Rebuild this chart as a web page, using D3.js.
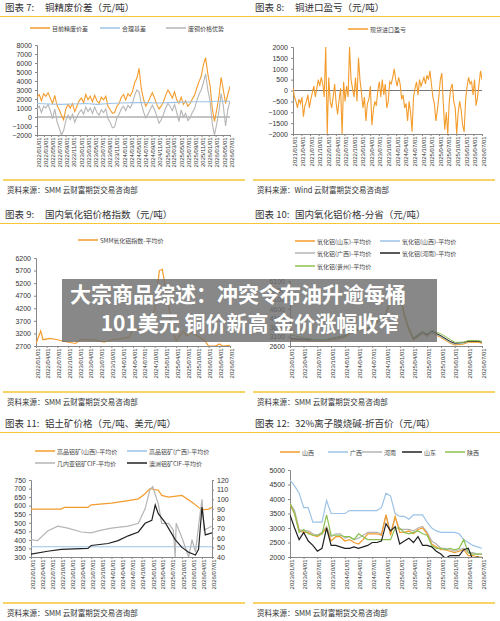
<!DOCTYPE html>
<html><head><meta charset="utf-8">
<script src="https://cdn.jsdelivr.net/npm/d3@7"></script>
<style>body{margin:0;background:#fff}svg{font-family:"Noto Sans CJK SC","Noto Sans",sans-serif}</style>
</head><body><div id="chart"></div>
<script>
// ---- 图表7 铜精废价差 ----
const p7Range = ['2022-01-01', '2026-07-01'];
const p7Ticks = d3.range(0, 28).map(i => d3.timeMonth.offset(new Date(2022, 0, 1), i * 2));
const p7Spread = [2200,2500,1800,2600,2300,2700,2100,1500,2400,1300,800,200,-300,900,1400,1000,1500,600,1200,1800,2100,1600,2500,1900,2300,1700,2400,1800,1500,2200,1900,2300,1200,800,400,500,1200,1500,2200,2500,1900,2600,2300,2800,3800,4300,5400,3200,2000,1200,1600,2200,2700,2100,1400,900,1200,1700,2400,3000,2600,2100,2800,1900,1500,2200,1400,1800,1200,1500,2000,2400,3200,3900,4500,5800,6600,4800,3500,1000,-500,800,2200,4400,3000,1500,2500,3400];
const p7Basis = [1500,1450,1400,1450,1500,1400,1500,1550,1600,1600,1550,1600,1650,1700,1700,1750,1750];
const p7Scrap = [900,1200,500,1200,1000,1400,700,-200,900,-500,-1200,-2000,-1500,-400,200,-300,300,-600,0,500,800,300,1100,600,1000,400,1100,500,200,800,500,900,-200,-600,-1200,-1100,-100,300,900,1200,700,1300,1000,1500,2400,3000,2800,1500,600,-100,300,800,1300,800,100,-700,-300,300,1000,1500,1200,700,1400,500,-500,800,0,400,-400,-100,500,900,1800,2500,3000,3800,4800,3000,1800,-700,-2000,-800,600,2600,1200,-1000,800,1800];
const p7YTicks = d3.range(-2000, 8001, 1000);

// ---- 图表8 铜进口盈亏 ----
const p8Range = ['2021-01-01', '2026-07-01'];
const p8Ticks = d3.range(0, 23).map(i => d3.timeMonth.offset(new Date(2021, 0, 1), i * 3));
const p8Profit = [100,-300,-500,-800,-400,-600,-300,-1200,-700,-500,-200,-800,-400,-100,200,-300,100,500,200,600,300,-300,2000,-2000,600,-500,-800,-300,300,-600,-1100,-400,100,-2000,400,-500,200,-300,2000,500,100,-300,600,-500,1500,500,-100,-800,-300,-1400,-600,-400,200,-1600,-900,-500,-700,0,400,-300,500,-200,300,-800,-500,400,300,600,1000,500,200,600,300,-400,-200,-800,-600,-1400,-500,-1000,-1900,-300,100,400,-200,500,200,400,600,300,700,500,900,300,-300,-600,-1400,-900,-300,500,800,-600,-1800,-1000,-2000,-500,100,300,-500,-800,-2000,-1000,-500,-900,-1600,-1900,-400,200,600,300,400,-200,500,-700,-300,300,900,500];
const p8YTicks = d3.range(-2000, 2001, 500);

// ---- 图表9 国内氧化铝价格指数 ----
const p9Ticks = d3.range(0, 19).map(i => d3.timeMonth.offset(new Date(2022, 0, 1), i * 3));
const p9Dates = ['2022-01-01','2022-02-10','2022-03-01','2022-05-01','2022-07-01','2022-10-01','2022-12-01','2023-01-15','2023-05-01','2023-08-01','2023-10-01','2024-01-01','2024-03-01','2024-04-01','2024-06-01','2024-08-01','2024-10-01','2024-11-10','2024-12-05','2025-01-01','2025-03-01','2025-04-01','2025-06-01','2025-07-01','2025-08-01','2025-10-01','2025-12-01','2026-01-01','2026-03-01','2026-04-01','2026-05-01','2026-07-01'];
const p9Index = [2800,3300,2950,3000,2950,2850,2800,2950,2950,2850,2950,3000,3050,3400,3350,3800,4100,5700,5750,5000,3400,2900,3300,3100,3250,3100,2900,2700,2700,2780,2700,2730];
const p9YTicks = d3.range(2700, 6201, 500);

// ---- 图表10 国内氧化铝价格-分省 ----
const p10Ticks = d3.range(0, 15).map(i => d3.timeMonth.offset(new Date(2023, 0, 1), i * 3));
const p10Dates = ['2023-01-01','2023-06-01','2023-09-01','2024-01-01','2024-03-01','2024-06-01','2024-08-01','2024-10-01','2024-11-15','2024-12-10','2025-01-01','2025-02-01','2025-03-01','2025-04-01','2025-06-01','2025-07-01','2025-08-01','2025-10-01','2025-12-01','2026-01-01','2026-03-01','2026-04-01','2026-06-01','2026-07-01'];
const p10Shandong = [2900,2850,2850,3050,3450,3450,3850,4250,5450,5650,5250,4150,3450,2900,3250,3100,3300,3050,2750,2650,2700,2800,2800,2750];
const p10Shanxi = [2950,2900,2900,3100,3500,3500,3900,4300,5500,5700,5300,4200,3500,2950,3300,3150,3350,3100,2800,2700,2750,2850,2850,2800];
const p10Guangxi = [2950,2900,2950,3100,3500,3500,3900,4300,5500,5700,5300,4200,3500,2950,3300,3150,3350,3100,2800,2700,2750,2850,2850,2800];
const p10Henan = [3000,2950,2950,3150,3550,3550,3950,4350,5550,5750,5350,4250,3550,3000,3350,3200,3400,3150,2850,2750,2800,2850,2850,2800];
const p10Guizhou = [3200,2950,2950,3150,3550,3550,3950,4350,5550,5750,5350,4250,3600,3050,3400,3250,3450,3250,2950,2800,2800,2900,2900,2850];
const p10YTicks = d3.range(2600, 6101, 500);

// ---- 图表11 铝土矿价格 ----
const p11Ticks = d3.range(0, 19).map(i => d3.timeMonth.offset(new Date(2022, 0, 1), i * 3));
const p11ShanxiDates = ['2022-01-01','2022-10-01','2022-11-01','2023-06-01','2023-07-01','2024-01-01','2024-06-01','2024-09-01','2024-11-01','2024-12-15','2025-03-01','2025-04-01','2025-06-01','2025-10-01','2026-01-01','2026-03-01','2026-04-01','2026-06-01','2026-07-01'];
const p11Shanxi = [580,580,590,590,605,615,630,640,670,700,690,660,650,660,620,590,575,580,590];
const p11GuangxiDates = ['2022-01-01','2026-07-01'];
const p11Guangxi = [360,360];
const p11GuineaDates = ['2022-01-01','2022-03-01','2022-06-01','2022-09-01','2022-12-01','2023-04-01','2023-07-01','2023-10-01','2024-01-01','2024-06-01','2024-09-01','2024-11-01','2024-12-15','2025-01-10','2025-03-01','2025-04-01','2025-06-01','2025-07-15','2025-08-01','2025-08-10','2025-10-01','2025-12-01','2026-01-01','2026-02-01','2026-03-01','2026-04-01','2026-04-20','2026-07-01'];
const p11Guinea = [58,57,67,72,70,66,65,68,70,72,75,90,110,113,95,75,75,68,40,75,60,40,58,45,72,100,68,72];
const p11AusDates = ['2022-01-01','2022-06-01','2022-10-01','2023-06-01','2023-07-01','2023-12-01','2024-03-01','2024-06-01','2024-09-01','2024-11-01','2025-01-01','2025-02-01','2025-03-01','2025-05-01','2025-08-01','2025-10-01','2025-12-01','2026-02-01','2026-03-01','2026-04-01','2026-05-01','2026-07-01'];
const p11Aus = [43,46,48,49,52,54,57,62,66,75,78,94,85,76,58,50,45,42,48,92,63,65];
const p11YTicks = d3.range(300, 751, 50);
const p11Y2Ticks = d3.range(40, 121, 10);

// ---- 图表12 32%离子膜烧碱 ----
const p12Ticks = d3.range(0, 15).map(i => d3.timeMonth.offset(new Date(2023, 0, 1), i * 3));
const p12Shanxi = [3800,3500,2900,2850,2850,2750,2700,2800,3000,2550,2700,2700,2550,2600,2500,2450,2600,2800,2800,2800,2750,3450,2750,3400,2850,2850,2900,2800,2950,3000,2800,2450,2350,2250,2250,2200,2150,2200,2250,2050,2050,2000,2000];
const p12Guangxi = [4650,4450,4200,3700,3700,3200,3200,3200,3950,3500,3500,3500,3500,3600,3600,3600,3600,3600,3600,3600,3700,4200,4100,3500,3400,3400,3300,3450,3450,3450,3200,3000,2900,2850,2850,2850,2850,2800,2600,2500,2400,2350,2300];
const p12Henan = [3850,3600,2950,2900,2900,2800,2750,2850,3050,2700,2800,2800,2650,2700,2600,2650,2750,2850,2850,2850,2800,3450,2850,3350,2950,2950,2950,2900,3000,3050,2850,2550,2450,2300,2300,2250,2200,2250,2300,2150,2150,2100,2100];
const p12Shandong = [3450,3000,2600,2850,2550,2400,2200,2300,3000,2400,2400,2350,2300,2300,2350,2300,2350,2400,2500,2500,2550,3150,2900,3050,2450,2550,2650,2500,2700,2400,2400,2350,2200,2100,1950,2050,2050,2050,2250,2300,1900,2000,1950];
const p12Shaanxi = [3850,3500,2850,2950,2800,2750,2750,2800,3450,2750,2750,2750,2700,2700,2600,2800,2700,2600,2600,2600,2600,2600,2600,3000,3000,2850,2800,2850,2900,2800,2750,2400,2300,2300,2250,2300,2250,2300,2600,2150,2100,2100,2100];
const p12YTicks = d3.range(2000, 5001, 500);

const W = 500, H = 621;
const svg = d3.select('#chart').append('svg').attr('width', W).attr('height', H);
const defs = svg.append('defs');
const fmt = d3.timeFormat('%Y/%m/%d');
const yellow = '#f6c635';
const C = {orange: '#f39c2c', blue: '#9dc3e6', gray: '#b5b5b5', black: '#222', green: '#8cc152'};
let clipId = 0;

// 均匀分布在时间范围内的序列
function spread(vals, range) {
	const t0 = new Date(range[0]), t1 = new Date(range[1]);
	const s = d3.scaleLinear().domain([0, vals.length - 1]).range([+t0, +t1]);
	return vals.map((v, i) => ({d: new Date(s(i)), v}));
}
function paired(dates, vals) {
	return dates.map((d, i) => ({d: new Date(d), v: vals[i]}));
}

function frame(px, py, num, title) {
	const g = svg.append('g').attr('transform', `translate(${px},${py})`);
	g.append('text').attr('x', 5).attr('y', 11).attr('font-size', 9.5).attr('fill', '#333').text(`图表 ${num}:`);
	g.append('text').attr('x', 45).attr('y', 11).attr('font-size', 9.5).attr('fill', '#333').text(title);
	g.append('line').attr('x1', 0).attr('x2', 250).attr('y1', 16.5).attr('y2', 16.5).attr('stroke', yellow).attr('stroke-width', 1.2);
	return g;
}
function footer(g, y, src) {
	g.append('line').attr('x1', 3).attr('x2', 245).attr('y1', y).attr('y2', y).attr('stroke', yellow).attr('stroke-width', 1.3);
	g.append('text').attr('x', 7).attr('y', y + 13).attr('font-size', 7.5).attr('fill', '#333').text(`资料来源：${src}  云财富期货交易咨询部`);
}
function legend(g, items) {
	items.forEach(it => {
		g.append('line').attr('x1', it[0]).attr('x2', it[0] + 20).attr('y1', it[1]).attr('y2', it[1])
			.attr('stroke', it[3]).attr('stroke-width', 1.5);
		g.append('text').attr('x', it[0] + 22).attr('y', it[1] + 2.5).attr('font-size', 6).attr('fill', '#444').text(it[2]);
	});
}
function axes(g, x, y, yTicks, ticks, bottom) {
	const ya = g.append('g').attr('transform', `translate(${x.range()[0]},0)`)
		.call(d3.axisLeft(y).tickValues(yTicks).tickSize(2).tickFormat(d3.format('d')));
	ya.selectAll('text').attr('font-size', 7).attr('fill', '#333');
	ya.selectAll('line,path').attr('stroke', '#888');
	const xa = g.append('g').attr('transform', `translate(0,${bottom})`)
		.call(d3.axisBottom(x).tickValues(ticks).tickSize(2).tickFormat(fmt));
	xa.selectAll('text').attr('font-size', 6).attr('fill', '#333')
		.attr('transform', 'rotate(-90)').attr('text-anchor', 'end').attr('dx', '-0.4em').attr('dy', '-0.3em');
	xa.selectAll('line,path').attr('stroke', '#888');
}
function clip(g, x, y) {
	const id = 'c' + (clipId++);
	defs.append('clipPath').attr('id', id).append('rect')
		.attr('x', x.range()[0]).attr('width', x.range()[1] - x.range()[0])
		.attr('y', y.range()[1]).attr('height', y.range()[0] - y.range()[1]);
	return g.append('g').attr('clip-path', `url(#${id})`);
}
function line(g, x, y, data, color, w) {
	g.append('path').datum(data).attr('fill', 'none').attr('stroke', color).attr('stroke-width', w || 1)
		.attr('d', d3.line().x(d => x(d.d)).y(d => y(d.v)));
}

// 图表7
{
	const g = frame(0, 0, 7, '铜精废价差（元/吨）');
	legend(g, [[30, 28, '目前精废价差', C.orange], [100, 28, '合理基差', C.blue], [166, 28, '废铜价格优势', C.gray]]);
	const x = d3.scaleTime().domain(p7Range.map(d => new Date(d))).range([37, 230]);
	const y = d3.scaleLinear().domain([-2000, 8000]).range([135, 45]);
	axes(g, x, y, p7YTicks, p7Ticks, 135);
	g.append('line').attr('x1', 37).attr('x2', 230).attr('y1', y(0)).attr('y2', y(0)).attr('stroke', '#888');
	const c = clip(g, x, y);
	line(c, x, y, spread(p7Spread, p7Range), C.orange, 1.1);
	line(c, x, y, spread(p7Scrap, p7Range), C.gray, 1.1);
	line(c, x, y, spread(p7Basis, p7Range), C.blue, 1.1);
	footer(g, 180, 'SMM');
}
// 图表8
{
	const g = frame(250, 0, 8, '铜进口盈亏（元/吨）');
	legend(g, [[98, 29, '现货进口盈亏', C.orange]]);
	const x = d3.scaleTime().domain(p8Range.map(d => new Date(d))).range([43, 232]);
	const y = d3.scaleLinear().domain([-2000, 2000]).range([134, 47]);
	axes(g, x, y, p8YTicks, p8Ticks, 134);
	g.append('line').attr('x1', 43).attr('x2', 232).attr('y1', y(0)).attr('y2', y(0)).attr('stroke', '#777');
	const c = clip(g, x, y);
	line(c, x, y, spread(p8Profit, p8Range), C.orange, 1.1);
	footer(g, 180, 'Wind');
}
// 图表9
{
	const g = frame(0, 207, 9, '国内氧化铝价格指数（元/吨）');
	legend(g, [[78, 33, 'SMM氧化铝指数-平均价', C.orange]]);
	const x = d3.scaleTime().domain([new Date('2022-01-01'), new Date('2026-07-01')]).range([36, 230]);
	const y = d3.scaleLinear().domain([2700, 6200]).range([139, 51]);
	axes(g, x, y, p9YTicks, p9Ticks, 139);
	const c = clip(g, x, y);
	line(c, x, y, paired(p9Dates, p9Index), C.orange, 1.2);
	footer(g, 185, 'SMM');
}
// 图表10
{
	const g = frame(250, 207, 10, '国内氧化铝价格-分省（元/吨）');
	legend(g, [[45, 34, '氧化铝(山东)-平均价', C.orange], [130, 34, '氧化铝(山西)-平均价', C.blue],
		[45, 46, '氧化铝(广西)-平均价', C.gray], [130, 46, '氧化铝(河南)-平均价', C.black],
		[45, 59, '氧化铝(贵州)-平均价', C.green]]);
	const x = d3.scaleTime().domain([new Date('2023-01-01'), new Date('2026-07-01')]).range([40, 232]);
	const y = d3.scaleLinear().domain([2600, 6100]).range([139, 74]);
	axes(g, x, y, p10YTicks, p10Ticks, 139);
	const c = clip(g, x, y);
	line(c, x, y, paired(p10Dates, p10Guangxi), C.gray);
	line(c, x, y, paired(p10Dates, p10Shanxi), C.blue);
	line(c, x, y, paired(p10Dates, p10Henan), C.black);
	line(c, x, y, paired(p10Dates, p10Guizhou), C.green);
	line(c, x, y, paired(p10Dates, p10Shandong), C.orange);
	footer(g, 185, 'SMM');
}
// 图表11
{
	const g = frame(0, 416, 11, '铝土矿价格（元/吨、美元/吨）');
	legend(g, [[35, 35, '高品铝矿(山西)-平均价', C.orange], [127, 35, '高品铝矿(广西)-平均价', C.blue],
		[35, 47, '几内亚铝矿CIF-平均价', C.gray], [127, 47, '澳洲铝矿CIF-平均价', C.black]]);
	const x = d3.scaleTime().domain([new Date('2022-01-01'), new Date('2026-07-01')]).range([31, 212]);
	const y = d3.scaleLinear().domain([300, 750]).range([141, 64]);
	const y2 = d3.scaleLinear().domain([40, 120]).range([141, 64]);
	axes(g, x, y, p11YTicks, p11Ticks, 141);
	const ra = g.append('g').attr('transform', 'translate(212,0)')
		.call(d3.axisRight(y2).tickValues(p11Y2Ticks).tickSize(2));
	ra.selectAll('text').attr('font-size', 7).attr('fill', '#333');
	ra.selectAll('line,path').attr('stroke', '#888');
	const c = clip(g, x, y);
	line(c, x, y, paired(p11ShanxiDates, p11Shanxi), C.orange, 1.2);
	line(c, x, y, paired(p11GuangxiDates, p11Guangxi), C.blue, 1.1);
	line(c, x, y2, paired(p11GuineaDates, p11Guinea), C.gray, 1.2);
	line(c, x, y2, paired(p11AusDates, p11Aus), C.black, 1.2);
	footer(g, 187, 'SMM');
}
// 图表12
{
	const g = frame(250, 416, 12, '32%离子膜烧碱-折百价（元/吨）');
	legend(g, [[30, 36, '山西', C.orange], [78, 36, '广西', C.blue], [112, 36, '河南', C.gray],
		[152, 36, '山东', C.black], [195, 36, '陕西', C.green]]);
	const range = ['2023-01-01', '2026-07-01'];
	const x = d3.scaleTime().domain(range.map(d => new Date(d))).range([40, 232]);
	const y = d3.scaleLinear().domain([2000, 5000]).range([141, 54]);
	axes(g, x, y, p12YTicks, p12Ticks, 141);
	const c = clip(g, x, y);
	line(c, x, y, spread(p12Henan, range), C.gray, 1.2);
	line(c, x, y, spread(p12Guangxi, range), C.blue, 1.2);
	line(c, x, y, spread(p12Shanxi, range), C.orange, 1.2);
	line(c, x, y, spread(p12Shaanxi, range), C.green, 1.2);
	line(c, x, y, spread(p12Shandong, range), C.black, 1.2);
	footer(g, 187, 'SMM');
}

// 标题覆盖层
svg.append('rect').attr('x', 62).attr('y', 279).attr('width', 375).attr('height', 63)
	.attr('fill', 'rgba(110,110,110,0.82)');
[['大宗商品综述：冲突令布油升逾每桶', 238, 302], ['101美元 铜价新高 金价涨幅收窄', 250, 331]].forEach(t => {
	svg.append('text').attr('x', t[1]).attr('y', t[2]).attr('text-anchor', 'middle')
		.attr('font-size', 21).attr('font-weight', 'bold').attr('fill', '#fff').text(t[0]);
});
</script></body></html>
